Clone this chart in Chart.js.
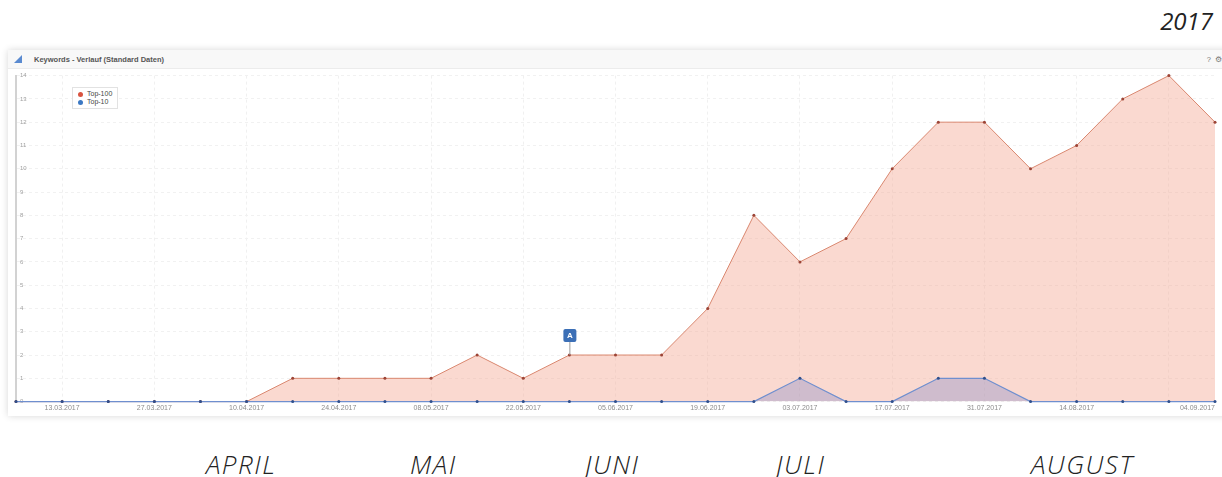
<!DOCTYPE html>
<html>
<head>
<meta charset="utf-8">
<script src="https://cdn.jsdelivr.net/npm/chart.js@4.4.1/dist/chart.umd.min.js"></script>
<style>
  body { margin: 0; width: 1222px; height: 477px; background: #fff; position: relative; overflow: hidden; font-family: 'Open Sans', sans-serif; }
  #year { position: absolute; right: 9px; top: 9px; font-size: 24px; line-height: 1; font-style: italic; color: #222; }
  #panel { position: absolute; left: 8px; top: 50px; width: 1222px; height: 366px; background: #fff; box-shadow: 0 0 7px rgba(0,0,0,0.16); }
  #head { position: absolute; left: 0; top: 0; right: 0; height: 18px; background: #f8f8f8; border-bottom: 1px solid #ececec; font: bold 7.5px Arial, sans-serif; color: #555; }
  #head .title { position: absolute; left: 26px; top: 5px; }
  #head .icon { position: absolute; left: 6px; top: 5px; width: 0; height: 0; border-left: 8px solid transparent; border-bottom: 8px solid #5a8ad0; }
  #head .tools { position: absolute; right: 8px; top: 5px; color: #777; font-weight: normal; }
  #chart { position: absolute; left: 0; top: 18px; }
  #legend { position: absolute; left: 64px; top: 37px; width: 44px; height: 20px; background: #fff; border: 1px solid #e2e2e2; font: 7px Arial, sans-serif; color: #444; }
  #legend div { position: absolute; left: 5px; white-space: nowrap; }
  #legend span { display: inline-block; width: 5px; height: 5px; border-radius: 50%; margin-right: 4px; vertical-align: -0.5px; }
  .month { position: absolute; top: 451px; font-size: 26px; line-height: 1; font-style: italic; font-weight: 300; letter-spacing: 1.5px; color: #222; }
</style>
</head>
<body>
<div id="year">2017</div>
<div id="panel">
  <div id="head"><div class="icon"></div><div class="title">Keywords - Verlauf (Standard Daten)</div><div class="tools">?&nbsp;&nbsp;⚙</div></div>
  <canvas id="chart" width="1214" height="349"></canvas>
  <div id="legend"></div>
</div>
<span class="month" style="left:206px">APRIL</span>
<span class="month" style="left:410px">MAI</span>
<span class="month" style="left:585px">JUNI</span>
<span class="month" style="left:776px">JULI</span>
<span class="month" style="left:1031px">AUGUST</span>

<script>
const weeks = [
  '06.03.2017', '13.03.2017', '20.03.2017', '27.03.2017', '03.04.2017', '10.04.2017',
  '17.04.2017', '24.04.2017', '01.05.2017', '08.05.2017', '15.05.2017', '22.05.2017',
  '29.05.2017', '05.06.2017', '12.06.2017', '19.06.2017', '26.06.2017', '03.07.2017',
  '10.07.2017', '17.07.2017', '24.07.2017', '31.07.2017', '07.08.2017', '14.08.2017',
  '21.08.2017', '28.08.2017', '04.09.2017'
];
const top100 = [0, 0, 0, 0, 0, 0, 1, 1, 1, 1, 2, 1, 2, 2, 2, 4, 8, 6, 7, 10, 12, 12, 10, 11, 13, 14, 12];
const top10 = [0, 0, 0, 0, 0, 0, 0, 0, 0, 0, 0, 0, 0, 0, 0, 0, 0, 1, 0, 0, 1, 1, 0, 0, 0, 0, 0];
const yMax = 14;
const noteWeek = '29.05.2017';
const noteText = 'A';

const seriesNames = ['Top-100', 'Top-10'];
const seriesDots = ['#d9533f', '#3b78c3'];

// x labels every second week, the last one is drawn right-aligned by the plugin
const showLabel = i => i % 2 === 1 && i < weeks.length - 2;

const extras = {
  id: 'extras',
  afterDraw(chart) {
    const { ctx, scales: { x, y } } = chart;
    const last = weeks.length - 1;
    ctx.save();
    ctx.font = '7px Arial';
    ctx.fillStyle = '#8c8c8c';
    ctx.textAlign = 'right';
    ctx.textBaseline = 'top';
    ctx.fillText(weeks[last], x.getPixelForValue(last), y.bottom + 3);

    const ni = weeks.indexOf(noteWeek);
    const px = x.getPixelForValue(ni);
    const py = y.getPixelForValue(top100[ni]);
    ctx.strokeStyle = '#9a9a9a';
    ctx.lineWidth = 1;
    ctx.beginPath();
    ctx.moveTo(px + 0.5, py);
    ctx.lineTo(px + 0.5, py - 13);
    ctx.stroke();
    ctx.fillStyle = '#3b6fb6';
    ctx.beginPath();
    ctx.roundRect(px - 6, py - 26, 13, 13, 2);
    ctx.fill();
    ctx.fillStyle = '#fff';
    ctx.font = 'bold 8px Arial';
    ctx.textAlign = 'center';
    ctx.textBaseline = 'middle';
    ctx.fillText(noteText, px + 0.5, py - 19);
    ctx.restore();
  }
};

const datasets = [
  {
    label: seriesNames[0],
    data: top100,
    borderColor: '#d9876f',
    backgroundColor: 'rgba(243, 170, 150, 0.45)',
    borderWidth: 1,
    fill: 'origin',
    pointRadius: 1.5,
    pointBorderWidth: 0,
    pointBackgroundColor: '#9c4436',
    order: 1,
    clip: 4
  },
  {
    label: seriesNames[1],
    data: top10,
    borderColor: '#6f8fcf',
    backgroundColor: 'rgba(96, 116, 196, 0.28)',
    borderWidth: 1.2,
    fill: 'origin',
    pointRadius: 1.5,
    pointBorderWidth: 0,
    pointBackgroundColor: '#2f4f8c',
    order: 0,
    clip: 4
  }
];

const config = {
  type: 'line',
  data: { labels: weeks, datasets: datasets },
  options: {
    responsive: false,
    animation: false,
    events: [],
    layout: { padding: { left: 0, right: 7, top: 6, bottom: 3 } },
    plugins: { legend: { display: false }, tooltip: { enabled: false } },
    elements: { line: { tension: 0 } },
    scales: {
      x: {
        offset: false,
        border: { display: false, dash: [3, 3] },
        grid: {
          drawTicks: false,
          tickLength: 0,
          color: ctx => (ctx.index % 2 === 1 ? '#f0f0f0' : 'rgba(0,0,0,0)')
        },
        ticks: {
          autoSkip: false,
          maxRotation: 0,
          padding: 2,
          color: '#8c8c8c',
          font: { family: 'Arial', size: 7 },
          callback: (v, i) => (showLabel(i) ? weeks[i] : '')
        }
      },
      y: {
        min: 0,
        max: yMax,
        border: { display: true, color: '#d2d2d2', width: 2, dash: [3, 3] },
        grid: { drawTicks: false, tickLength: 0, color: '#f1f1f1' },
        ticks: {
          stepSize: 1,
          mirror: true,
          padding: 4,
          color: '#a0a0a0',
          font: { family: 'Arial', size: 6 }
        }
      }
    }
  },
  plugins: [extras]
};

const canvasElement = document.getElementById('chart');
const myChart = new Chart(canvasElement, config);

// small legend box inside the plot
const legend = document.getElementById('legend');
seriesNames.forEach((name, i) => {
  const row = document.createElement('div');
  row.style.top = (2 + i * 8) + 'px';
  row.innerHTML = '<span style="background:' + seriesDots[i] + '"></span>' + name;
  legend.appendChild(row);
});
</script>
</body>
</html>
